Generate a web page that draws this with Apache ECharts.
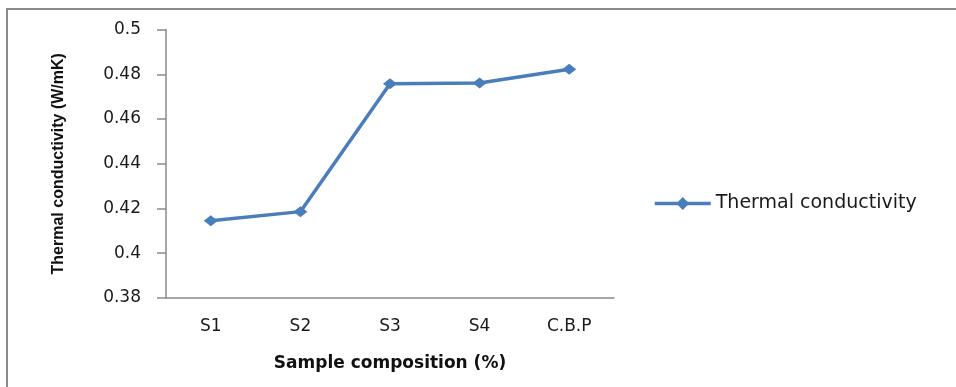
<!DOCTYPE html>
<html>
<head>
<meta charset="utf-8">
<script src="https://cdn.jsdelivr.net/npm/echarts@6/dist/echarts.min.js"></script>
<style>
html,body{margin:0;padding:0;background:#fff;}
#chart{width:956px;height:387px;}
</style>
</head>
<body>
<div id="chart"></div>
<script>
const categories = ['S1', 'S2', 'S3', 'S4', 'C.B.P'];
const conductivity = [0.4145, 0.4186, 0.4758, 0.4761, 0.4822];
const seriesName = 'Thermal conductivity';
const xAxisTitle = 'Sample composition (%)';
const yAxisTitle = 'Thermal conductivity (W/mK)';
const yMin = 0.38, yMax = 0.5, yStep = 0.02;

const chart = echarts.init(document.getElementById('chart'), null, {renderer: 'canvas'});
const blue = '#4a7ebb';
chart.setOption({
  animation: false,
  backgroundColor: '#ffffff',
  graphic: [{
    type: 'rect',
    shape: {x: 7, y: 9, width: 1000, height: 500},
    style: {fill: 'none', stroke: '#8c8c8c', lineWidth: 2},
    silent: true
  }],
  grid: {left: 166, right: 342, top: 29.5, bottom: 89, containLabel: false},
  legend: {
    left: 653, top: 194, padding: 0,
    itemWidth: 56, itemHeight: 16, itemGap: 5,
    textStyle: {fontFamily: 'DejaVu Sans', fontSize: 19, color: '#1a1a1a'},
    lineStyle: {width: 3.5},
    data: [seriesName]
  },
  xAxis: {
    type: 'category',
    data: categories,
    boundaryGap: true,
    axisLine: {lineStyle: {color: '#8a8a8a', width: 1.5}},
    axisTick: {show: false},
    axisLabel: {fontFamily: 'DejaVu Sans', fontSize: 17, color: '#1a1a1a', margin: 20},
    name: xAxisTitle,
    nameLocation: 'middle',
    nameGap: 57,
    nameTextStyle: {fontFamily: 'DejaVu Sans', fontWeight: 'bold', fontSize: 17, color: '#111'}
  },
  yAxis: {
    type: 'value',
    min: yMin, max: yMax, interval: yStep,
    axisLine: {show: true, lineStyle: {color: '#8a8a8a', width: 1.5}},
    axisTick: {show: true, length: 9, lineStyle: {color: '#8a8a8a', width: 1.5}},
    splitLine: {show: false},
    axisLabel: {fontFamily: 'DejaVu Sans', fontSize: 17, color: '#1a1a1a', margin: 25},
    name: yAxisTitle,
    nameLocation: 'middle',
    nameGap: 99,
    nameTextStyle: {fontFamily: 'Liberation Sans', fontWeight: 'bold', fontSize: 16, color: '#111'}
  },
  series: [{
    name: seriesName,
    type: 'line',
    data: conductivity,
    symbol: 'diamond',
    symbolSize: [14, 11],
    lineStyle: {color: blue, width: 3.5},
    itemStyle: {color: blue}
  }]
});
</script>
</body>
</html>
